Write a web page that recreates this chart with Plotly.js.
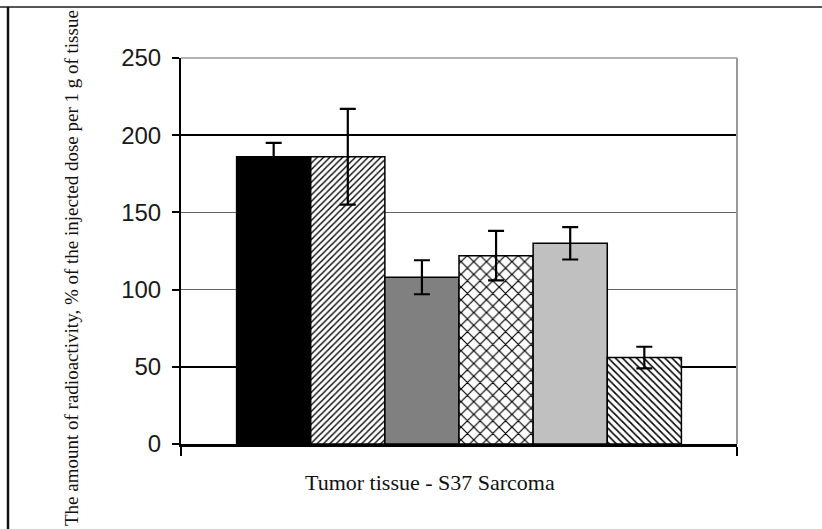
<!DOCTYPE html>
<html>
<head>
<meta charset="utf-8">
<script src="https://cdn.plot.ly/plotly-3.0.1.min.js"></script>
<style>
  html, body { margin: 0; padding: 0; background: #fff; }
  #chart { width: 822px; height: 529px; }
</style>
</head>
<body>
<div id="chart"></div>
<script>
// ---- data ----
const category = ['Tumor tissue - S37 Sarcoma'];
const seriesNames = ['Group 1', 'Group 2', 'Group 3', 'Group 4', 'Group 5', 'Group 6'];
const seriesValues = [186, 186, 108, 122, 130, 56];
const seriesErrors = [9, 31, 11, 16, 10.5, 7];
const yTickValues = [0, 50, 100, 150, 200, 250];
const emphasizedGrid = [50, 200];

const yTitle = 'The amount of radioactivity, % of the injected dose per 1 g of tissue';
const xTitle = 'Tumor tissue - S37 Sarcoma';

// ---- styling ----
const fills = [
  {color: '#000000', pattern: {shape: ''}},
  {color: '#ffffff', pattern: {shape: '/', fgcolor: '#000', bgcolor: '#fff', size: 4.5, solidity: 0.3}},
  {color: '#808080', pattern: {shape: ''}},
  {color: '#ffffff', pattern: {shape: 'x', fgcolor: '#000', bgcolor: '#fff', size: 9, solidity: 0.25}},
  {color: '#c0c0c0', pattern: {shape: ''}},
  {color: '#ffffff', pattern: {shape: '\\', fgcolor: '#000', bgcolor: '#fff', size: 5, solidity: 0.3}}
];

const traces = seriesValues.map((v, i) => ({
  type: 'bar',
  name: seriesNames[i],
  x: category,
  y: [v],
  error_y: {type: 'data', array: [seriesErrors[i]], visible: true, color: '#000', thickness: 2.2, width: 8},
  marker: {
    color: fills[i].color,
    pattern: fills[i].pattern,
    line: {color: '#000', width: 1.5}
  },
  hoverinfo: 'y'
}));
// empty helper trace so the overlay axis (for the darker grid lines) is drawn
traces.push({type: 'scatter', x: [], y: [], yaxis: 'y2', hoverinfo: 'skip', showlegend: false});

const shapes = [
  // outer frame (top and left)
  {type: 'line', xref: 'paper', yref: 'paper', x0: -181/556, x1: 2, y0: (529-7-85)/386, y1: (529-7-85)/386,
   line: {color: '#555', width: 2}},
  {type: 'line', xref: 'paper', yref: 'paper', x0: -173/556, x1: -173/556, y0: -1, y1: (529-7-85)/386,
   line: {color: '#111', width: 2.5}},
  // plot border top and right
  {type: 'line', xref: 'paper', yref: 'paper', x0: 0, x1: 1, y0: 1, y1: 1, line: {color: '#999', width: 1.5}},
  {type: 'line', xref: 'paper', yref: 'paper', x0: 1, x1: 1, y0: 0, y1: 1, line: {color: '#999', width: 2}}
];

const layout = {
  width: 822, height: 529,
  margin: {l: 181, r: 85, t: 58, b: 85},
  paper_bgcolor: '#fff', plot_bgcolor: '#fff',
  showlegend: false,
  barmode: 'group', bargap: 0.2, bargroupgap: 0,
  xaxis: {
    type: 'category',
    showticklabels: false,
    ticks: 'outside', tickson: 'boundaries', ticklen: 9, tickwidth: 2, tickcolor: '#000',
    showline: true, linecolor: '#000', linewidth: 2.5,
    showgrid: false, zeroline: false, fixedrange: true
  },
  yaxis: {
    range: [0, 250],
    tickvals: yTickValues,
    ticks: 'outside', ticklen: 7, tickwidth: 2, tickcolor: '#000',
    ticklabelstandoff: 6,
    tickfont: {family: 'Liberation Sans, Arial, sans-serif', size: 24, color: '#1a1a1a'},
    showline: true, linecolor: '#000', linewidth: 2,
    showgrid: true, gridcolor: '#666', gridwidth: 1.5,
    zeroline: false, fixedrange: true
  },
  yaxis2: {
    overlaying: 'y', side: 'left',
    range: [0, 250],
    tickvals: emphasizedGrid,
    showticklabels: false, ticks: '',
    showline: false,
    showgrid: true, gridcolor: '#000', gridwidth: 2.5,
    zeroline: false, fixedrange: true
  },
  shapes: shapes,
  annotations: [
    {text: yTitle, xref: 'paper', yref: 'paper', x: (71-181)/556, y: (529-268-85)/386,
     xanchor: 'center', yanchor: 'middle', textangle: -90, showarrow: false,
     font: {family: 'Liberation Serif, Times New Roman, serif', size: 19, color: '#111'}},
    {text: xTitle, xref: 'paper', yref: 'paper', x: (430-181)/556, y: -(483-444)/386,
     xanchor: 'center', yanchor: 'middle', showarrow: false,
     font: {family: 'Liberation Serif, Times New Roman, serif', size: 22, color: '#111'}}
  ]
};

Plotly.newPlot('chart', traces, layout, {displayModeBar: false, staticPlot: true});
</script>
</body>
</html>
